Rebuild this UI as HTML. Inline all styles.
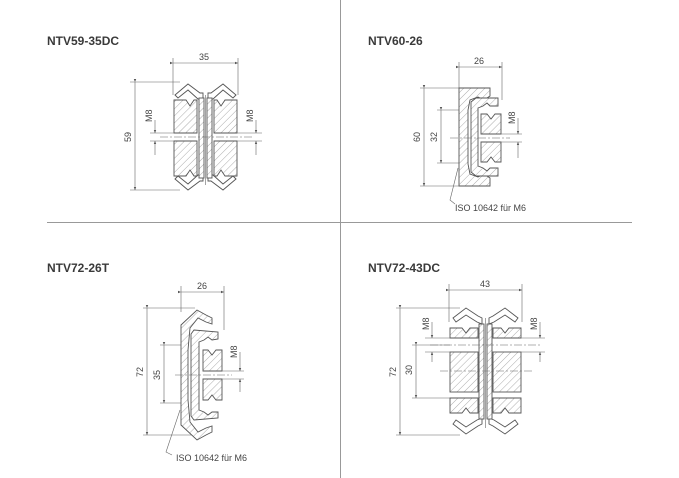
<!DOCTYPE html>
<html><head><meta charset="utf-8"><style>
html,body{margin:0;padding:0;background:#fff;}
svg{display:block;}
text{font-family:"Liberation Sans",Arial,sans-serif;fill:#333;}
.t{font-weight:bold;font-size:12px;fill:#3a3a3a;}
.d{font-size:9px;fill:#444;}
.s{stroke:#555;stroke-width:0.9;fill:url(#h);}
.w{stroke:#555;stroke-width:0.9;fill:#fff;}
.l{stroke:#666;stroke-width:0.6;fill:none;}
.c{stroke:#666;stroke-width:0.6;fill:none;stroke-dasharray:8 2 2 2;}
</style></head><body>
<svg width="679" height="478" viewBox="0 0 679 478" xmlns="http://www.w3.org/2000/svg">
<defs>
<pattern id="h" width="5" height="5" patternUnits="userSpaceOnUse" patternTransform="rotate(45)">
<rect width="5" height="5" fill="#fff"/><line x1="0" y1="0" x2="0" y2="5" stroke="#888" stroke-width="0.7"/></pattern>
<marker id="a" markerWidth="6" markerHeight="6" refX="5" refY="3" orient="auto"><path d="M0,1 L5,3 L0,5" fill="#555"/></marker>
</defs>
<!-- dividers -->
<line x1="340.5" y1="0" x2="340.5" y2="478" stroke="#999" stroke-width="1"/>
<line x1="47" y1="222.5" x2="632" y2="222.5" stroke="#999" stroke-width="1"/>
<!-- titles -->
<text class="t" x="47" y="45">NTV59-35DC</text>
<text class="t" x="368" y="45">NTV60-26</text>
<text class="t" x="47" y="272">NTV72-26T</text>
<text class="t" x="368" y="272">NTV72-43DC</text>

<!-- ===== Drawing 1 ===== -->
<g>
<line class="l" x1="173" y1="58" x2="173" y2="95"/><line class="l" x1="238" y1="58" x2="238" y2="95"/>
<line class="l" x1="173" y1="63" x2="238" y2="63" marker-start="url(#a)" marker-end="url(#a)"/>
<text class="d" x="199" y="60">35</text>
<line class="l" x1="130" y1="82" x2="180" y2="82"/><line class="l" x1="130" y1="190" x2="180" y2="190"/>
<line class="l" x1="135" y1="82" x2="135" y2="190" marker-start="url(#a)" marker-end="url(#a)"/>
<text class="d" transform="translate(131,142) rotate(-90)">59</text>
<!-- chevrons -->
<path class="w" d="M175,95 L188,84 L200,93 L203,93 L203,99 L198,99 L188,90 L178,98 Z"/>
<path class="w" d="M236,95 L223,84 L211,93 L208,93 L208,99 L213,99 L223,90 L233,98 Z"/>
<path class="w" d="M175,179 L188,190 L200,181 L203,181 L203,175 L198,175 L188,184 L178,176 Z"/>
<path class="w" d="M236,179 L223,190 L211,181 L208,181 L208,175 L213,175 L223,184 L233,176 Z"/>
<!-- blocks -->
<path class="s" d="M174,100 L186,100 L190,106 L194,100 L197,100 L197,133 L174,133 Z"/>
<path class="s" d="M174,141 L197,141 L197,176 L194,176 L190,170 L186,176 L174,176 Z"/>
<path class="s" d="M214,100 L217,100 L221,106 L225,100 L237,100 L237,133 L214,133 Z"/>
<path class="s" d="M214,141 L237,141 L237,176 L225,176 L221,170 L217,176 L214,176 Z"/>
<rect class="s" x="199" y="98" width="5" height="80"/><rect class="s" x="207" y="98" width="5" height="80"/>
<line class="l" x1="205.5" y1="95" x2="205.5" y2="185"/>
<line class="c" x1="160" y1="137" x2="252" y2="137"/>
<line class="l" x1="150" y1="133" x2="174" y2="133"/><line class="l" x1="150" y1="141" x2="174" y2="141"/>
<line class="l" x1="237" y1="133" x2="262" y2="133"/><line class="l" x1="237" y1="141" x2="262" y2="141"/>
<line class="l" x1="155" y1="120" x2="155" y2="133" marker-end="url(#a)"/><line class="l" x1="155" y1="155" x2="155" y2="141" marker-end="url(#a)"/>
<line class="l" x1="256" y1="120" x2="256" y2="133" marker-end="url(#a)"/><line class="l" x1="256" y1="155" x2="256" y2="141" marker-end="url(#a)"/>
<text class="d" transform="translate(152,122) rotate(-90)">M8</text>
<text class="d" transform="translate(253,122) rotate(-90)">M8</text>
</g>

<!-- ===== Drawing 2 ===== -->
<g>
<line class="l" x1="459" y1="62" x2="459" y2="88"/><line class="l" x1="502" y1="62" x2="502" y2="100"/>
<line class="l" x1="459" y1="67" x2="502" y2="67" marker-start="url(#a)" marker-end="url(#a)"/>
<text class="d" x="474" y="64">26</text>
<line class="l" x1="420" y1="88" x2="460" y2="88"/><line class="l" x1="420" y1="186" x2="460" y2="186"/>
<line class="l" x1="424" y1="88" x2="424" y2="186" marker-start="url(#a)" marker-end="url(#a)"/>
<text class="d" transform="translate(420,142) rotate(-90)">60</text>
<line class="l" x1="437" y1="110" x2="460" y2="110"/><line class="l" x1="437" y1="163" x2="460" y2="163"/>
<line class="l" x1="441" y1="110" x2="441" y2="163" marker-start="url(#a)" marker-end="url(#a)"/>
<text class="d" transform="translate(437,142) rotate(-90)">32</text>
<path class="s" d="M459,88 L490,88 L490,96 L484,100 L478,97 L470,100 L468,110 L468,164 L470,174 L478,177 L484,174 L490,178 L490,186 L459,186 Z"/>
<path class="s" d="M471,102 L476,98 L498,98 L498,106 L490,106 L487,103 L483,106 L478,108 L478,166 L483,168 L487,171 L490,168 L498,168 L498,176 L476,176 L471,172 Z"/>
<path class="s" d="M481,114 L487,114 L491,119 L495,114 L501,114 L501,134 L481,134 Z"/>
<path class="s" d="M481,142 L501,142 L501,162 L495,162 L491,157 L487,162 L481,162 Z"/>
<line class="c" x1="450" y1="138" x2="510" y2="138"/>
<line class="l" x1="501" y1="134" x2="522" y2="134"/><line class="l" x1="501" y1="142" x2="522" y2="142"/>
<line class="l" x1="518" y1="118" x2="518" y2="134" marker-end="url(#a)"/><line class="l" x1="518" y1="158" x2="518" y2="142" marker-end="url(#a)"/>
<text class="d" transform="translate(515,124) rotate(-90)">M8</text>
<path class="l" d="M458,168 L450,200 L455,204"/>
<text class="d" x="455" y="211">ISO 10642 für M6</text>
</g>

<!-- ===== Drawing 3 ===== -->
<g>
<line class="l" x1="181" y1="286" x2="181" y2="312"/><line class="l" x1="224" y1="286" x2="224" y2="330"/>
<line class="l" x1="181" y1="292" x2="224" y2="292" marker-start="url(#a)" marker-end="url(#a)"/>
<text class="d" x="197" y="289">26</text>
<line class="l" x1="143" y1="308" x2="195" y2="308"/><line class="l" x1="143" y1="435" x2="195" y2="435"/>
<line class="l" x1="147" y1="308" x2="147" y2="435" marker-start="url(#a)" marker-end="url(#a)"/>
<text class="d" transform="translate(143,377) rotate(-90)">72</text>
<line class="l" x1="160" y1="345" x2="182" y2="345"/><line class="l" x1="160" y1="403" x2="182" y2="403"/>
<line class="l" x1="164" y1="345" x2="164" y2="403" marker-start="url(#a)" marker-end="url(#a)"/>
<text class="d" transform="translate(160,380) rotate(-90)">35</text>
<path class="s" d="M181,325 L197,310 L206,315 L212,318 L212,324 L206,322 L198,318 L190,328 L188,350 L188,400 L190,422 L198,432 L206,428 L212,426 L212,432 L206,435 L197,440 L181,425 Z"/>
<path class="s" d="M191,334 L194,330 L218,332 L218,339 L212,340 L208,337 L204,340 L199,342 L199,410 L204,412 L208,415 L212,412 L218,412 L218,418 L194,420 L191,416 Z"/>
<path class="s" d="M203,350 L208,350 L212,355 L216,350 L222,350 L222,371 L203,371 Z"/>
<path class="s" d="M203,379 L222,379 L222,400 L216,400 L212,395 L208,400 L203,400 Z"/>
<line class="c" x1="175" y1="375" x2="232" y2="375"/>
<line class="l" x1="222" y1="371" x2="244" y2="371"/><line class="l" x1="222" y1="379" x2="244" y2="379"/>
<line class="l" x1="240" y1="352" x2="240" y2="371" marker-end="url(#a)"/><line class="l" x1="240" y1="392" x2="240" y2="379" marker-end="url(#a)"/>
<text class="d" transform="translate(237,358) rotate(-90)">M8</text>
<path class="l" d="M180,410 L166,452 L172,455"/>
<text class="d" x="176" y="461">ISO 10642 für M6</text>
</g>

<!-- ===== Drawing 4 ===== -->
<g>
<line class="l" x1="449" y1="284" x2="449" y2="322"/><line class="l" x1="522" y1="284" x2="522" y2="322"/>
<line class="l" x1="449" y1="290" x2="522" y2="290" marker-start="url(#a)" marker-end="url(#a)"/>
<text class="d" x="480" y="287">43</text>
<line class="l" x1="396" y1="308" x2="460" y2="308"/><line class="l" x1="396" y1="435" x2="460" y2="435"/>
<line class="l" x1="400" y1="308" x2="400" y2="435" marker-start="url(#a)" marker-end="url(#a)"/>
<text class="d" transform="translate(396,377) rotate(-90)">72</text>
<line class="l" x1="412" y1="345" x2="450" y2="345"/><line class="l" x1="412" y1="398" x2="450" y2="398"/>
<line class="l" x1="416" y1="345" x2="416" y2="398" marker-start="url(#a)" marker-end="url(#a)"/>
<text class="d" transform="translate(412,375) rotate(-90)">30</text>
<!-- chevrons -->
<path class="w" d="M453,318 L466,308 L478,316 L482,318 L482,324 L477,322 L466,315 L456,322 Z"/>
<path class="w" d="M518,318 L505,308 L493,316 L489,318 L489,324 L494,322 L505,315 L515,322 Z"/>
<path class="w" d="M453,424 L466,434 L478,426 L482,424 L482,418 L477,420 L466,427 L456,420 Z"/>
<path class="w" d="M518,424 L505,434 L493,426 L489,424 L489,418 L494,420 L505,427 L515,420 Z"/>
<!-- blocks -->
<path class="s" d="M450,328 L462,328 L466,333 L470,328 L478,328 L478,338 L450,338 Z"/>
<rect class="s" x="450" y="352" width="28" height="40"/>
<path class="s" d="M450,398 L478,398 L478,413 L470,413 L466,408 L462,413 L450,413 Z"/>
<path class="s" d="M493,328 L501,328 L505,333 L509,328 L521,328 L521,338 L493,338 Z"/>
<rect class="s" x="493" y="352" width="28" height="40"/>
<path class="s" d="M493,398 L521,398 L521,413 L509,413 L505,408 L501,413 L493,413 Z"/>
<rect class="s" x="479" y="324" width="5" height="95"/><rect class="s" x="487" y="324" width="5" height="95"/>
<line class="l" x1="485.5" y1="318" x2="485.5" y2="428"/>
<line class="c" x1="430" y1="345" x2="540" y2="345"/>
<line class="c" x1="440" y1="371" x2="532" y2="371"/>
<line class="l" x1="425" y1="338" x2="450" y2="338"/><line class="l" x1="425" y1="352" x2="450" y2="352"/>
<line class="l" x1="521" y1="338" x2="545" y2="338"/><line class="l" x1="521" y1="352" x2="545" y2="352"/>
<line class="l" x1="432" y1="322" x2="432" y2="338" marker-end="url(#a)"/><line class="l" x1="432" y1="362" x2="432" y2="352" marker-end="url(#a)"/>
<line class="l" x1="540" y1="322" x2="540" y2="338" marker-end="url(#a)"/><line class="l" x1="540" y1="362" x2="540" y2="352" marker-end="url(#a)"/>
<text class="d" transform="translate(429,330) rotate(-90)">M8</text>
<text class="d" transform="translate(537,330) rotate(-90)">M8</text>
</g>
</svg>
</body></html>
